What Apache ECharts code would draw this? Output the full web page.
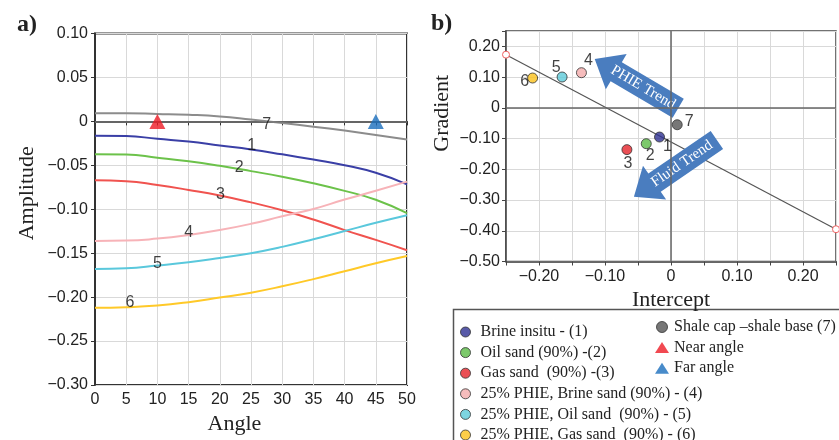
<!DOCTYPE html>
<html><head><meta charset="utf-8">
<script src="https://cdn.jsdelivr.net/npm/echarts@6/dist/echarts.min.js"></script>
<style>html,body{margin:0;padding:0;background:#fff}#c{width:839px;height:440px}</style>
</head><body><div id="c"></div>
<script>
// ---------- DATA ----------
const angles = [0, 5, 10, 15, 20, 25, 30, 35, 40, 45, 50];
const curve1 = [-0.0165, -0.0167, -0.0199, -0.0229, -0.0274, -0.0319, -0.0375, -0.0435, -0.0499, -0.0585, -0.0716];
const curve2 = [-0.0375, -0.0377, -0.0413, -0.0454, -0.0506, -0.0566, -0.0630, -0.0705, -0.0791, -0.0892, -0.1045];
const curve3 = [-0.0671, -0.0680, -0.0724, -0.0780, -0.0843, -0.0922, -0.1012, -0.1117, -0.1237, -0.1349, -0.1466];
const curve4 = [-0.1360, -0.1357, -0.1334, -0.1293, -0.1237, -0.1166, -0.1080, -0.0997, -0.0890, -0.0790, -0.0686];
const curve5 = [-0.1680, -0.1672, -0.1641, -0.1604, -0.1555, -0.1500, -0.1428, -0.1342, -0.1248, -0.1154, -0.1068];
const curve6 = [-0.2121, -0.2114, -0.2095, -0.2057, -0.2005, -0.1949, -0.1877, -0.1795, -0.1705, -0.1615, -0.1533];
const curve7 = [0.0093, 0.0093, 0.0085, 0.0075, 0.0056, 0.0020, -0.0019, -0.0060, -0.0105, -0.0154, -0.0207];
const curveLabels = ['1', '2', '3', '4', '5', '6', '7'];
const curveLabelAngle = [25.1, 23.1, 20.1, 15.0, 10.0, 5.6, 27.5];
const curveLabelAmp = [-0.0274, -0.0525, -0.0830, -0.1267, -0.1623, -0.2065, -0.0040];
const nearAngle = [10, 0];
const farAngle = [45, 0];

const pointNames = ['Brine insitu - (1)', 'Oil sand (90%) -(2)', 'Gas sand  (90%) -(3)',
  '25% PHIE, Brine sand (90%) - (4)', '25% PHIE, Oil sand  (90%) - (5)', '25% PHIE, Gas sand  (90%) - (6)',
  'Shale cap \u2013shale base (7)'];
const pointLabels = ['1', '2', '3', '4', '5', '6', '7'];
const intercepts = [-0.0174, -0.0375, -0.0668, -0.1357, -0.1650, -0.2097, 0.0094];
const gradients = [-0.0950, -0.1167, -0.1360, 0.1143, 0.1003, 0.0970, -0.0550];
const trendX = [-0.25, 0.25];
const trendY = [0.173, -0.395];
const arrowNames = ['PHIE Trend', 'Fluid Trend'];
const arrowTail = [[0.0109, -0.0015], [0.0695, -0.1047]];
const arrowTip = [[-0.1156, 0.1589], [-0.0562, -0.289]];
const markerNames = ['Near angle', 'Far angle'];

const ampMin = -0.30, ampMax = 0.10, ampStep = 0.05;
const angMin = 0, angMax = 50, angStep = 5;
const intMin = -0.25, intMax = 0.25, intStep = 0.05;
const gradMin = -0.50, gradMax = 0.25, gradStep = 0.10;

// ---------- STYLE ----------
const SANS = 'Liberation Sans, Arial, sans-serif';
const SERIF = 'Liberation Serif, Times New Roman, serif';
const curveColors = ['#3a3fa6', '#6cc24a', '#f0534f', '#f7b3b8', '#5ac8dc', '#ffc928', '#8c8c8c'];
const pointColors = ['#2e3192', '#5bbb46', '#e5232a', '#f4abab', '#5ccbd9', '#fbc21b', '#555555'];
const labelOffsets = [[8, 10], [4, 12], [1, 14], [7, -12], [-6, -9], [-8, 4], [12, -3]];

function fmt(v) {
  if (Math.abs(v) < 1e-9) return '0';
  return (v < 0 ? '\u2212' : '') + Math.abs(v).toFixed(2);
}
function fmtTenth(v) {
  if (Math.abs(Math.round(v * 10) - v * 10) > 1e-6) return '';
  return fmt(v);
}

const chart = echarts.init(document.getElementById('c'), null, {renderer: 'canvas'});

const series = [];
const curves = [curve1, curve2, curve3, curve4, curve5, curve6, curve7];
curves.forEach((c, i) => {
  const s = {
    name: 'curve' + curveLabels[i], type: 'line', xAxisIndex: 0, yAxisIndex: 0,
    data: angles.map((a, k) => [a, c[k]]), smooth: true, showSymbol: false,
    lineStyle: {color: curveColors[i], width: 2}, z: 3
  };
  if (i === 6) {
    s.markLine = {silent: true, symbol: 'none', label: {show: false}, animation: false,
      lineStyle: {color: '#777', type: 'solid', width: 1.5}, data: [{yAxis: 0}]};
  }
  series.push(s);
});
series.push({
  name: 'curveLabels', type: 'scatter', xAxisIndex: 0, yAxisIndex: 0, symbolSize: 1,
  itemStyle: {color: 'rgba(0,0,0,0)'}, z: 6,
  data: curveLabels.map((t, i) => ({name: t, value: [curveLabelAngle[i], curveLabelAmp[i]]})),
  label: {show: true, position: 'inside', formatter: '{b}', color: '#111', fontSize: 16, fontFamily: SANS}
});
series.push({name: markerNames[0], type: 'scatter', xAxisIndex: 0, yAxisIndex: 0, symbol: 'triangle',
  symbolSize: [16, 15], itemStyle: {color: '#ee1c25'}, data: [nearAngle], z: 7});
series.push({name: markerNames[1], type: 'scatter', xAxisIndex: 0, yAxisIndex: 0, symbol: 'triangle',
  symbolSize: [16, 15], itemStyle: {color: '#1a6ebd'}, data: [farAngle], z: 7});

// right chart
series.push({
  name: 'trend', type: 'line', xAxisIndex: 1, yAxisIndex: 1,
  data: trendX.map((x, i) => [x, trendY[i]]),
  symbol: 'circle', symbolSize: 7, showSymbol: true,
  itemStyle: {color: '#fff', borderColor: '#f06060', borderWidth: 1},
  lineStyle: {color: '#555', width: 1.2}, z: 3,
  markLine: {silent: true, symbol: 'none', label: {show: false}, animation: false,
    lineStyle: {color: '#666', type: 'solid', width: 1.5}, data: [{xAxis: 0}, {yAxis: 0}]}
});
series.push({
  name: 'arrows', type: 'custom', xAxisIndex: 1, yAxisIndex: 1, z: 4,
  data: arrowNames.map((n, i) => [arrowTail[i][0], arrowTail[i][1], arrowTip[i][0], arrowTip[i][1]]),
  renderItem: function (params, api) {
    const a = api.coord([api.value(0), api.value(1)]);
    const b = api.coord([api.value(2), api.value(3)]);
    const dx = b[0] - a[0], dy = b[1] - a[1], L = Math.hypot(dx, dy);
    const ux = dx / L, uy = dy / L, nx = -uy, ny = ux;
    const sw = 11, hw = 20.5, hl = 25;
    const nk = [b[0] - ux * hl, b[1] - uy * hl];
    const pts = [[a[0] + nx * sw, a[1] + ny * sw], [nk[0] + nx * sw, nk[1] + ny * sw],
      [nk[0] + nx * hw, nk[1] + ny * hw], b, [nk[0] - nx * hw, nk[1] - ny * hw],
      [nk[0] - nx * sw, nk[1] - ny * sw], [a[0] - nx * sw, a[1] - ny * sw]];
    let rx = -dx, ry = -dy;
    if (rx < 0) { rx = -rx; ry = -ry; }
    const rot = Math.atan2(-ry, rx);
    const t = 0.58;
    const cx = b[0] + (a[0] - b[0]) * t, cy = b[1] + (a[1] - b[1]) * t;
    return {type: 'group', children: [
      {type: 'polygon', shape: {points: pts}, style: {fill: '#4a7dbf'}},
      {type: 'text', x: cx, y: cy, rotation: rot,
        style: {text: arrowNames[params.dataIndex], fill: '#fff', fontSize: 15, fontFamily: SERIF,
          align: 'center', verticalAlign: 'middle'}}
    ]};
  }
});
pointNames.forEach((n, i) => {
  series.push({
    name: n, type: 'scatter', xAxisIndex: 1, yAxisIndex: 1, symbolSize: 10, z: 6,
    itemStyle: {color: pointColors[i], borderColor: '#333', borderWidth: 1},
    data: [{value: [intercepts[i], gradients[i]], name: pointLabels[i]}],
    label: {show: true, position: 'inside', offset: labelOffsets[i], formatter: '{b}',
      color: '#111', fontSize: 16, fontFamily: SANS}
  });
});

const legendText = {fontFamily: SERIF, fontSize: 16, color: '#222'};
const option = {
  animation: false,
  backgroundColor: '#fff',
  grid: [
    {left: 95, top: 33.5, width: 312, height: 357, show: true, borderColor: '#333', borderWidth: 2},
    {left: 506, top: 31, width: 331, height: 230.5, show: true, borderColor: '#444', borderWidth: 1.5}
  ],
  xAxis: [
    {type: 'value', gridIndex: 0, min: angMin, max: angMax, interval: angStep,
      axisLine: {show: true, lineStyle: {color: '#333', width: 2}},
      axisTick: {show: true, length: 4, lineStyle: {color: '#333'}},
      axisLabel: {fontSize: 16, color: '#222', fontFamily: SANS, margin: 7},
      splitLine: {show: true, lineStyle: {color: '#d9d9d9', width: 1}},
      name: 'Angle', nameLocation: 'middle', nameGap: 28,
      nameTextStyle: {fontFamily: SERIF, fontSize: 22, color: '#222', padding: [0, 33, 0, 0]}},
    {type: 'value', gridIndex: 1, min: intMin, max: intMax, interval: intStep,
      axisLine: {show: true, onZero: false, lineStyle: {color: '#444', width: 1.5}},
      axisTick: {show: true, length: 4, lineStyle: {color: '#444'}},
      axisLabel: {fontSize: 16, color: '#222', fontFamily: SANS, margin: 7, formatter: fmtTenth},
      splitLine: {show: true, lineStyle: {color: '#d9d9d9', width: 1}},
      name: 'Intercept', nameLocation: 'middle', nameGap: 19,
      nameTextStyle: {fontFamily: SERIF, fontSize: 22, color: '#222'}}
  ],
  yAxis: [
    {type: 'value', gridIndex: 0, min: ampMin, max: ampMax, interval: ampStep,
      axisLine: {show: true, lineStyle: {color: '#333', width: 2}},
      axisTick: {show: true, length: 4, lineStyle: {color: '#333'}},
      axisLabel: {fontSize: 16, color: '#222', fontFamily: SANS, margin: 7, formatter: fmt},
      splitLine: {show: true, lineStyle: {color: '#d9d9d9', width: 1}},
      name: 'Amplitude', nameLocation: 'middle', nameGap: 57,
      nameTextStyle: {fontFamily: SERIF, fontSize: 22, color: '#222', padding: [0, 0, 0, 32]}},
    {type: 'value', gridIndex: 1, min: gradMin, max: gradMax, interval: gradStep,
      axisLine: {show: true, onZero: false, lineStyle: {color: '#444', width: 1.5}},
      axisTick: {show: true, length: 4, lineStyle: {color: '#444'}},
      axisLabel: {fontSize: 16, color: '#222', fontFamily: SANS, margin: 6,
        formatter: v => (v > 0.21 ? '' : fmt(v))},
      splitLine: {show: true, lineStyle: {color: '#d9d9d9', width: 1}},
      name: 'Gradient', nameLocation: 'middle', nameGap: 53,
      nameTextStyle: {fontFamily: SERIF, fontSize: 22, color: '#222', padding: [0, 0, 0, 66]}}
  ],
  legend: [
    {orient: 'vertical', left: 455, top: 319, height: 160, itemWidth: 20, itemHeight: 10, itemGap: 4.6,
      selectedMode: false, textStyle: legendText,
      data: pointNames.slice(0, 6).map((n, i) => ({name: n, icon: 'circle',
        itemStyle: {color: pointColors[i], borderColor: '#333', borderWidth: 1}}))},
    {orient: 'vertical', left: 650, top: 314, height: 100, itemWidth: 14, itemHeight: 11, itemGap: 4.6,
      selectedMode: false, textStyle: legendText,
      data: [
        {name: pointNames[6], icon: 'circle', itemStyle: {color: pointColors[6], borderColor: '#333', borderWidth: 1}},
        {name: markerNames[0], icon: 'triangle', itemStyle: {color: '#ee1c25', borderWidth: 0}},
        {name: markerNames[1], icon: 'triangle', itemStyle: {color: '#1a6ebd', borderWidth: 0}}
      ]}
  ],
  graphic: [
    {type: 'rect', shape: {x: 453.5, y: 309.5, width: 420, height: 160},
      style: {fill: 'none', stroke: '#555', lineWidth: 1.5}, z: 0, silent: true},
    {type: 'text', x: 17, y: 13, style: {text: 'a)', font: 'bold 24px ' + SERIF, fill: '#222'}},
    {type: 'text', x: 431, y: 12, style: {text: 'b)', font: 'bold 24px ' + SERIF, fill: '#222'}}
  ],
  series: series
};
chart.setOption(option);
</script>
</body></html>
